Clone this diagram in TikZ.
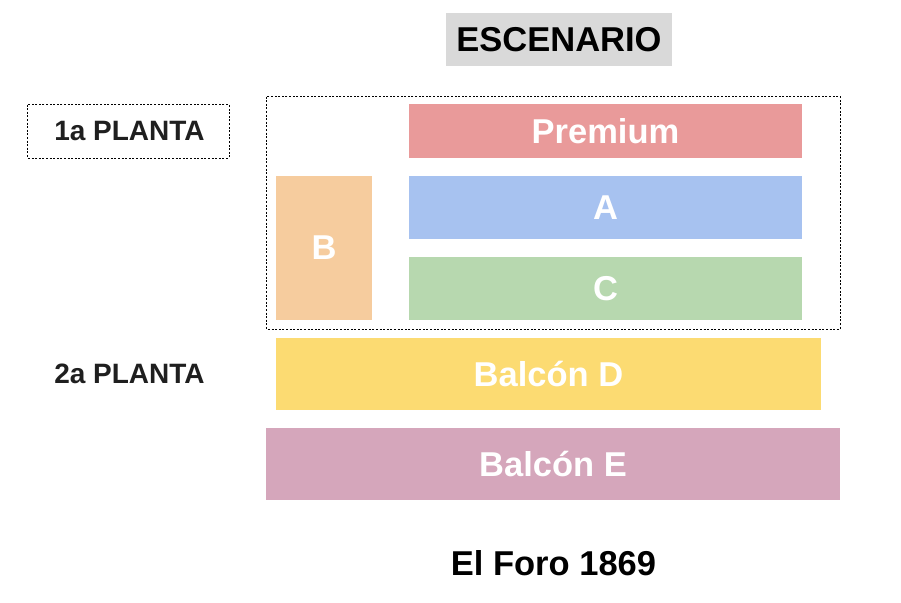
\documentclass[tikz,border=0pt]{standalone}
\usepackage{fontspec}
\setmainfont{Liberation Sans}
\begin{document}
\begin{tikzpicture}[x=1pt,y=-1pt,
  zone/.style={draw=none,inner sep=0pt,text=white,font=\fontsize{34.5}{40}\selectfont\bfseries},
  dbox/.style={draw=black,line width=0.9pt,dash pattern=on 2pt off 1.6pt},
  lab/.style={text=black!88,font=\fontsize{28}{32}\selectfont\bfseries}]
\definecolor{cgray}{HTML}{D9D9D9}
\definecolor{cprem}{HTML}{E99A9A}
\definecolor{ca}{HTML}{A7C2F0}
\definecolor{cc}{HTML}{B7D8AF}
\definecolor{cb}{HTML}{F6CC9E}
\definecolor{cd}{HTML}{FCDB72}
\definecolor{ce}{HTML}{D5A6BB}
\useasboundingbox[fill=white] (0,0) rectangle (901,602);
% stage
\fill[cgray] (446,13) rectangle (672,66);
\node[font=\fontsize{34.5}{40}\selectfont\bfseries,text=black] (esc) at (559,40) {ESCENARIO};
% first floor frame
\draw[dbox] (266.5,96.5) rectangle (840,329);
\draw[dbox] (27.5,104.5) rectangle (229,158);
\node[lab] (p1) at (129.5,131) {1a PLANTA};
% zones
\fill[cprem] (409,104) rectangle (802,158);
\node[zone] (prem) at (605.5,131) {Premium};
\fill[ca] (409,176) rectangle (802,239);
\node[zone] (a) at (605.5,207.5) {A};
\fill[cc] (409,257) rectangle (802,320);
\node[zone] (c) at (605.5,288.5) {C};
\fill[cb] (276,176) rectangle (372,320);
\node[zone] (b) at (324,248) {B};
\fill[cd] (276,338) rectangle (821,410);
\node[zone] (d) at (548.5,374) {Balcón D};
\node[lab] (p2) at (129.5,374) {2a PLANTA};
\fill[ce] (266,428) rectangle (840,500);
\node[zone] (e) at (553,464) {Balcón E};
\node[font=\fontsize{34.5}{40}\selectfont\bfseries,text=black] (title) at (553.5,563) {El Foro 1869};
\end{tikzpicture}
\end{document}
